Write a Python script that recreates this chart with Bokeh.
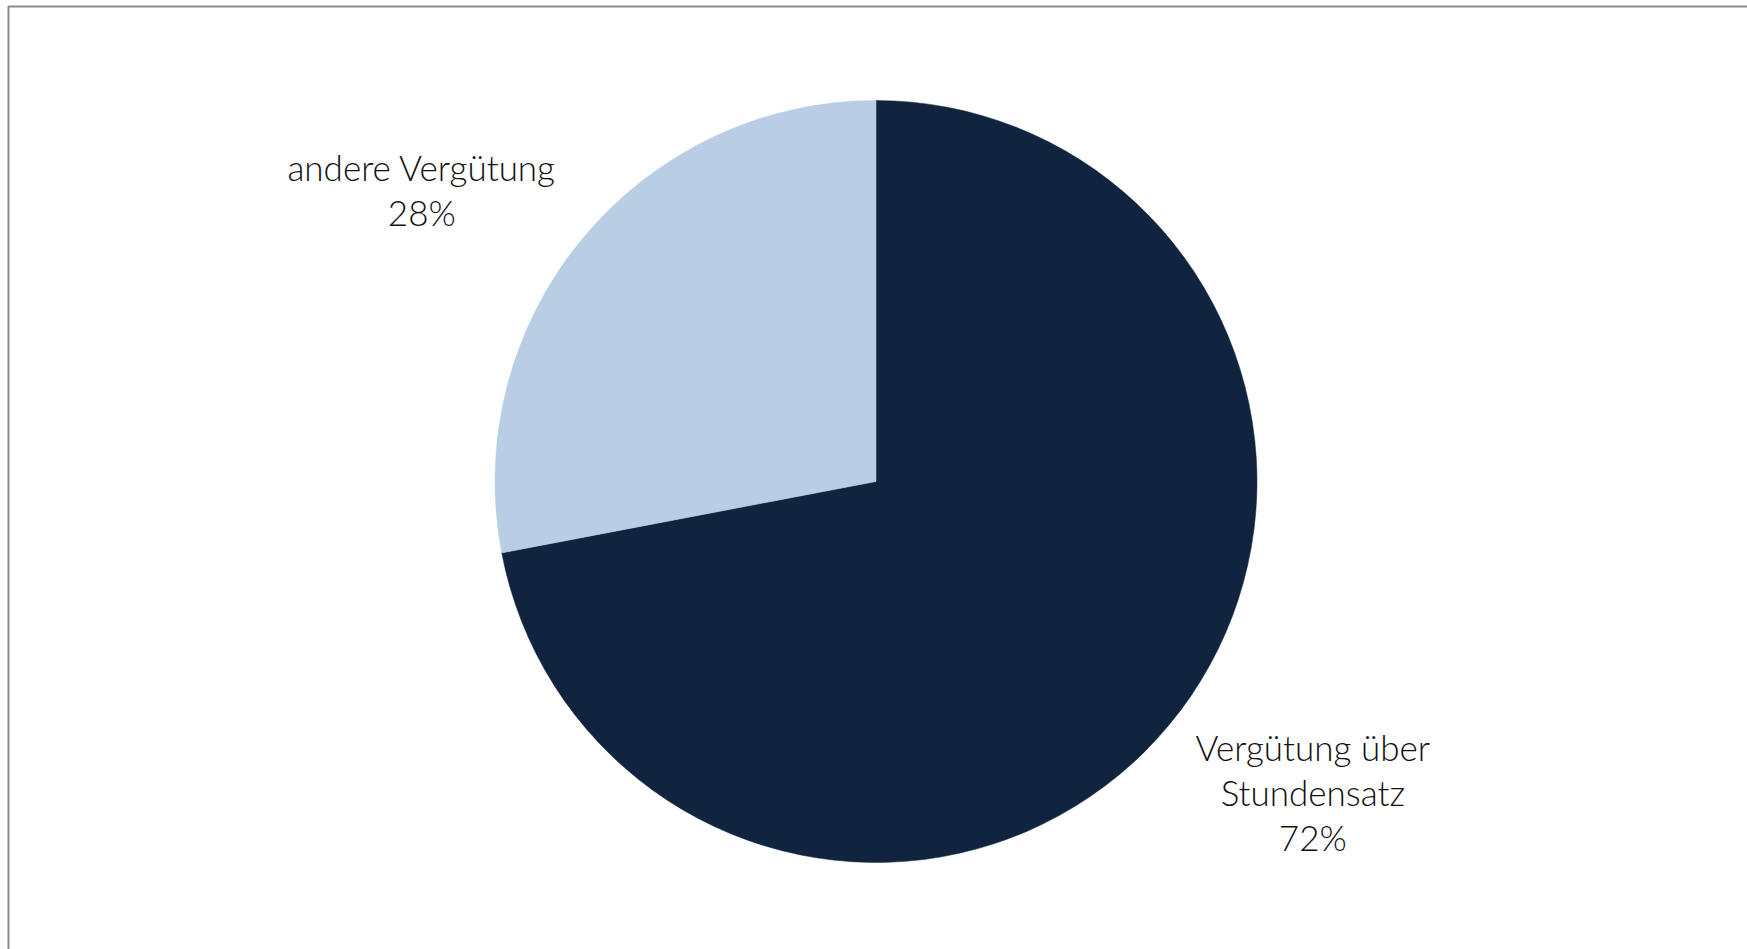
import math
from bokeh.plotting import figure
from bokeh.models import Range1d, BoxAnnotation, ColumnDataSource
from bokeh.core.properties import value
from bokeh.embed import file_html
from bokeh.resources import INLINE

# ---- data ----
categories = ["Vergütung über\nStundensatz", "andere Vergütung"]
shares = [72, 28]
colors = ["#11243F", "#B9CDE5"]

# ---- layout constants (pixel-like data units) ----
W, H = 1747, 949
CX, CY = 875.5, 468.0     # pie centre in frame pixels from left / bottom
R = 381.0
LABEL_R = [1.41, 1.415]   # label distance in radii
LABEL_NUDGE = [4.0, 7.0]  # degrees added to mid angle (counter-clockwise)
BORDER_LEFT, BORDER_TOP = 8, 6

p = figure(width=W, height=H, output_backend="svg", toolbar_location=None,
           x_range=Range1d(-CX, W - CX), y_range=Range1d(-CY, H - CY),
           min_border=0, background_fill_color="white",
           border_fill_color="white")
p.axis.visible = False
p.grid.visible = False
p.outline_line_color = None

total = float(sum(shares))
start = math.pi / 2
starts, ends, lx, ly, texts = [], [], [], [], []
for cat, s, nudge, lr in zip(categories, shares, LABEL_NUDGE, LABEL_R):
    sweep = 2 * math.pi * s / total
    end = start - sweep
    starts.append(start)
    ends.append(end)
    mid = (start + end) / 2 + math.radians(nudge)
    lx.append(lr * R * math.cos(mid))
    ly.append(lr * R * math.sin(mid))
    texts.append(f"{cat}\n{s}%")
    start = end

src = ColumnDataSource(dict(start=starts, end=ends, color=colors))
p.wedge(x=0, y=0, radius=R, start_angle="start", end_angle="end",
        direction="clock", fill_color="color", line_color="color",
        line_width=0.5, source=src)

p.text(x=lx, y=ly, text=texts, text_align="center", text_baseline="middle",
       text_font=value("Lato Light, Lato"), text_font_size=value("35px"),
       text_line_height=1.07, text_color="#111111", y_offset=-2)

# chart-area border (only top and left edges fall inside the window)
p.add_layout(BoxAnnotation(left=-CX + BORDER_LEFT, top=H - CY - BORDER_TOP,
                           right=W - CX + 20, bottom=-CY - 20,
                           fill_color=None, fill_alpha=0,
                           line_color="#8a8a8a", line_alpha=1.0,
                           line_width=2))

open("out.html", "w").write(file_html(p, INLINE))
